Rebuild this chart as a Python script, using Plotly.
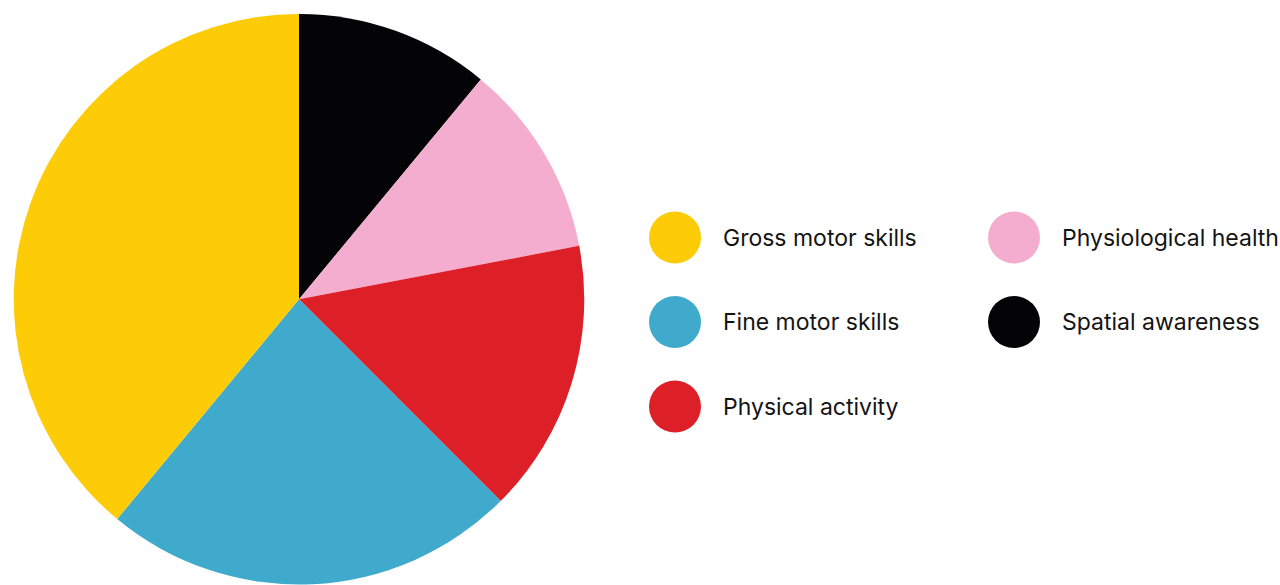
import plotly.graph_objects as go

# Share of each development area (percent)
categories = ["Gross motor skills", "Fine motor skills", "Physical activity",
              "Physiological health", "Spatial awareness"]
values = [39, 23.5, 15.5, 11, 11]
colors = ["#FDCC06", "#40AACD", "#DD1F27", "#F4ADCE", "#040407"]

# Pie slices drawn clockwise from 12 o'clock, starting with the last category
pie_order = [4, 3, 2, 1, 0]

W, H = 1280, 585

fig = go.Figure()
fig.add_trace(go.Pie(
    labels=[categories[i] for i in pie_order],
    values=[values[i] for i in pie_order],
    marker=dict(colors=[colors[i] for i in pie_order], line=dict(width=0)),
    sort=False,
    direction="clockwise",
    rotation=0,
    textinfo="none",
    hoverinfo="label+percent",
    showlegend=False,
    domain=dict(x=[13.5 / W, 584.5 / W], y=[0.5 / H, 1 - 14 / H]),
))

# Custom two-column legend with large round swatches
col_x = [675, 1014]
row_y = [237.5, 322, 406.5]
lx, ly = [], []
for i in range(len(categories)):
    c, r = divmod(i, 3)
    lx.append(col_x[c])
    ly.append(row_y[r])

fig.add_trace(go.Scatter(
    x=lx, y=ly, mode="markers",
    marker=dict(size=52, color=colors, line=dict(width=0)),
    hoverinfo="skip", showlegend=False,
))

for i, name in enumerate(categories):
    fig.add_annotation(
        x=lx[i] + 46, y=ly[i], text=name, showarrow=False,
        xanchor="left", yanchor="middle", xref="x", yref="y",
        font=dict(family="Inter, Lato, sans-serif", size=23, color="#141414"),
    )

fig.update_layout(
    width=W, height=H,
    margin=dict(l=0, r=0, t=0, b=0),
    paper_bgcolor="white", plot_bgcolor="white",
    xaxis=dict(range=[0, W], visible=False, fixedrange=True),
    yaxis=dict(range=[H, 0], visible=False, fixedrange=True),
)

fig.write_html("out.html")
